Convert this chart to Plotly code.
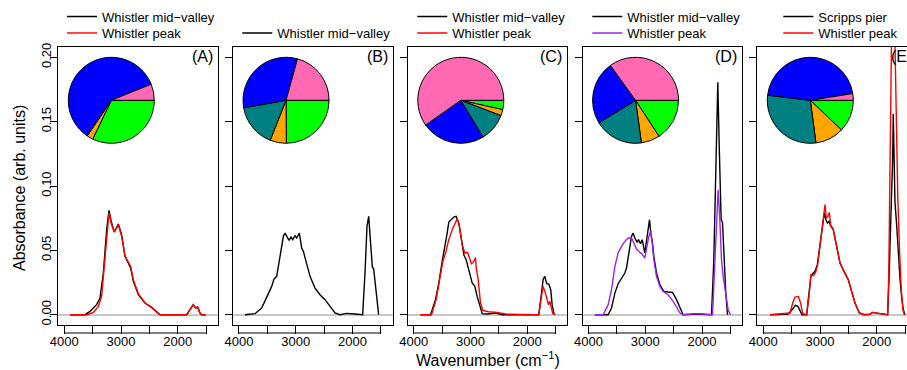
import plotly.graph_objects as go

# ---------------- data ----------------
pie_labels = ["Hydroxyl", "Alkane", "Carbonyl", "Amine", "Carboxylic acid"]
pie_colors = ["#FF69B4", "#0000FF", "#008080", "#FFA500", "#00FF00"]
pie_A = [6.1, 59.4, 0.0, 2.4, 32.1]
pie_B = [20.7, 32.1, 16.2, 6.1, 24.9]
pie_C = [59.8, 23.9, 10.6, 2.3, 3.5]
pie_D = [34.9, 23.8, 18.4, 7.0, 15.8]
pie_E = [2.5, 45.6, 29.0, 10.8, 12.1]

A_mid_wn = [3898, 3634, 3546, 3429, 3370, 3311, 3253, 3212, 3165, 3118, 3047, 2989, 2930, 2871, 2830, 2783, 2695, 2578, 2461, 2314, 1845, 1786, 1727, 1686, 1651, 1610, 1581, 1510]
A_mid = [0, 0, 0.0026, 0.0078, 0.013, 0.0324, 0.066, 0.081, 0.0712, 0.0643, 0.0705, 0.0622, 0.0453, 0.0402, 0.0363, 0.0259, 0.0155, 0.0091, 0.0057, 0, 0, 0.0039, 0.0078, 0.0052, 0.006, 0.0013, 0, 0]
A_peak_wn = [3898, 3605, 3487, 3399, 3341, 3300, 3253, 3212, 3165, 3118, 3047, 2989, 2930, 2871, 2830, 2783, 2695, 2578, 2461, 2314, 1845, 1786, 1727, 1686, 1651, 1610, 1581, 1510]
A_peak = [0, 0, 0.0018, 0.0065, 0.0142, 0.035, 0.0634, 0.079, 0.0699, 0.0643, 0.0699, 0.0609, 0.0458, 0.0414, 0.0375, 0.0272, 0.0163, 0.0091, 0.0057, 0, 0, 0.0039, 0.0078, 0.0052, 0.006, 0.0013, 0, 0]

B_mid_wn = [3893, 3717, 3600, 3512, 3424, 3383, 3336, 3277, 3218, 3189, 3148, 3119, 3083, 3054, 3013, 2984, 2937, 2896, 2866, 2808, 2749, 2661, 2573, 2485, 2397, 2309, 2221, 2104, 1957, 1822, 1781, 1746, 1716, 1681, 1652, 1628, 1576, 1541]
B_mid = [0, 0.0008, 0.0052, 0.013, 0.022, 0.0277, 0.0298, 0.0453, 0.0609, 0.0634, 0.0596, 0.0577, 0.0603, 0.0583, 0.0614, 0.0596, 0.0634, 0.0518, 0.0492, 0.0389, 0.0298, 0.0207, 0.0155, 0.0117, 0.0065, 0.0013, 0, 0.001, 0.0005, 0, 0.0324, 0.0686, 0.0764, 0.0531, 0.0371, 0.0355, 0.0117, 0]

C_mid_wn = [3880, 3704, 3616, 3558, 3499, 3452, 3411, 3382, 3335, 3294, 3253, 3206, 3159, 3118, 3077, 3042, 3000, 2971, 2924, 2883, 2842, 2795, 2707, 2560, 2443, 1798, 1757, 1722, 1692, 1657, 1622, 1587, 1563, 1528]
C_mid = [0, 0, 0.0117, 0.0246, 0.0414, 0.0518, 0.0634, 0.072, 0.0738, 0.0759, 0.0764, 0.0712, 0.0583, 0.0466, 0.0427, 0.0375, 0.0298, 0.0246, 0.022, 0.0142, 0.0078, 0.0008, 0.0005, 0.0013, 0, 0, 0.0142, 0.0272, 0.0298, 0.0241, 0.0238, 0.0194, 0.0078, 0]
C_peak_wn = [3880, 3687, 3605, 3528, 3487, 3440, 3382, 3323, 3276, 3235, 3194, 3147, 3100, 3053, 3018, 2983, 2942, 2912, 2901, 2865, 2824, 2783, 2678, 2531, 2384, 1798, 1751, 1722, 1681, 1651, 1628, 1604, 1581, 1552, 1504]
C_peak = [0, 0, 0.0117, 0.0311, 0.0414, 0.0479, 0.0583, 0.066, 0.0712, 0.0746, 0.0686, 0.0544, 0.0479, 0.0484, 0.044, 0.0396, 0.0414, 0.0445, 0.037, 0.0272, 0.0091, 0.0034, 0.0023, 0.0018, 0.0005, 0, 0.0142, 0.022, 0.0168, 0.0117, 0.0078, 0.0104, 0.0065, 0.0008, 0]

D_mid_wn = [3887, 3653, 3594, 3535, 3477, 3418, 3359, 3330, 3283, 3242, 3213, 3184, 3142, 3119, 3084, 3054, 3008, 2966, 2925, 2902, 2872, 2849, 2802, 2743, 2673, 2597, 2520, 2450, 2391, 2333, 2098, 1834, 1793, 1758, 1723, 1699, 1664, 1640, 1611, 1582, 1552]
D_mid = [0, 0, 0.0052, 0.0168, 0.0241, 0.0285, 0.0324, 0.0363, 0.0505, 0.0609, 0.0634, 0.0596, 0.0562, 0.0583, 0.0552, 0.0583, 0.048, 0.0634, 0.0738, 0.0634, 0.0557, 0.0453, 0.0324, 0.0233, 0.0181, 0.0176, 0.0173, 0.0117, 0.0052, 0, 0.0005, 0, 0.0427, 0.1204, 0.1805, 0.133, 0.0738, 0.0717, 0.0427, 0.0168, 0]
D_peak_wn = [3887, 3741, 3653, 3594, 3535, 3477, 3418, 3359, 3301, 3242, 3201, 3154, 3095, 3054, 3008, 2978, 2937, 2908, 2878, 2849, 2802, 2743, 2685, 2597, 2509, 2438, 2391, 2333, 2098, 1816, 1781, 1746, 1717, 1687, 1658, 1629, 1588, 1541, 1500]
D_peak = [0, 0, 0.0078, 0.0194, 0.0376, 0.0479, 0.0531, 0.057, 0.0596, 0.0596, 0.0557, 0.051, 0.0484, 0.0471, 0.044, 0.0518, 0.0609, 0.0648, 0.0557, 0.0427, 0.0298, 0.022, 0.0181, 0.0155, 0.0104, 0.0052, 0.0013, 0, 0.0008, 0, 0.0376, 0.0764, 0.0971, 0.0738, 0.0427, 0.0298, 0.0168, 0.0039, 0]

E_pier_wn = [3880, 3558, 3481, 3435, 3388, 3352, 3317, 3235, 3194, 3165, 3130, 3088, 3047, 3000, 2959, 2924, 2895, 2871, 2842, 2813, 2766, 2707, 2648, 2578, 2502, 2443, 2384, 2308, 2226, 2120, 2079, 1944, 1809, 1780, 1757, 1739, 1722, 1710, 1698, 1680, 1651, 1620, 1592, 1560, 1534, 1505]
E_pier = [0, 0.0005, 0.0044, 0.0073, 0.0065, 0.0026, 0, 0, 0.0142, 0.0285, 0.0319, 0.0337, 0.0389, 0.0531, 0.0661, 0.079, 0.0738, 0.0712, 0.0725, 0.0692, 0.0661, 0.0518, 0.0402, 0.0337, 0.0272, 0.0181, 0.0091, 0.0013, 0, 0.0003, 0.0018, 0.0008, 0, 0.035, 0.07, 0.0868, 0.12, 0.156, 0.12, 0.087, 0.07, 0.045, 0.028, 0.012, 0.004, 0]
E_peak_wn = [3880, 3528, 3481, 3440, 3382, 3341, 3306, 3235, 3194, 3159, 3118, 3077, 3041, 3000, 2959, 2930, 2912, 2889, 2860, 2836, 2813, 2766, 2707, 2648, 2578, 2502, 2443, 2384, 2308, 2226, 2120, 2079, 1944, 1809, 1790, 1760, 1745, 1725, 1712, 1700, 1680, 1660, 1630, 1600, 1570, 1540, 1515]
E_peak = [0, 0.0013, 0.0091, 0.0137, 0.0142, 0.0091, 0.0008, 0, 0.0142, 0.0311, 0.0303, 0.0329, 0.0389, 0.0544, 0.0686, 0.0816, 0.0855, 0.0751, 0.0764, 0.0795, 0.0699, 0.0661, 0.0518, 0.0402, 0.0337, 0.0272, 0.0181, 0.0091, 0.0013, 0, 0.0003, 0.0018, 0.0008, 0, 0.03, 0.12, 0.2, 0.28, 0.3, 0.28, 0.21, 0.15, 0.09, 0.05, 0.02, 0.004, 0]

x_major_ticks = [4000, 3000, 2000]
x_major_text = ["4000", "3000", "2000"]
x_minor_ticks = [3500, 2500, 1500]
y_tickvals = [0, 0.05, 0.10, 0.15, 0.20]
y_ticktext = ["0.00", "0.05", "0.10", "0.15", "0.20"]
panel_tags = ["(A)", "(B)", "(C)", "(D)", "(E)"]

# ---------------- layout geometry (pixels) ----------------
W, H = 907, 370
FONT = "Liberation Sans, Arial, Helvetica, sans-serif"
L0, PITCH, PW = 58.3, 174.75, 159.5
TOP, BOT = 47.0, 325.0
XR = [4104.0, 1296.0]
YR = [-0.008, 0.208]
UPP = (XR[0] - XR[1]) / PW  # wavenumber units per pixel


def fx(p):
    return p / W


def fy(p):
    return 1 - p / H


BLACK, RED, PURPLE = "#000000", "#FF0000", "#A020F0"

panels = [
    dict(series=[(A_mid_wn, A_mid, "Whistler mid\u2212valley", BLACK, 1),
                 (A_peak_wn, A_peak, "Whistler peak", RED, 2)], pie=pie_A),
    dict(series=[(B_mid_wn, B_mid, "Whistler mid\u2212valley", BLACK, 2)], pie=pie_B),
    dict(series=[(C_mid_wn, C_mid, "Whistler mid\u2212valley", BLACK, 1),
                 (C_peak_wn, C_peak, "Whistler peak", RED, 2)], pie=pie_C),
    dict(series=[(D_mid_wn, D_mid, "Whistler mid\u2212valley", BLACK, 1),
                 (D_peak_wn, D_peak, "Whistler peak", PURPLE, 2)], pie=pie_D),
    dict(series=[(E_pier_wn, E_pier, "Scripps pier", BLACK, 1),
                 (E_peak_wn, E_peak, "Whistler peak", RED, 2)], pie=pie_E),
]
legend_text_x = [102, 277.3, 452.3, 627.3, 818.3]
legend_row_y = {1: 16.5, 2: 33.0}

fig = go.Figure()
layout = dict(
    width=W, height=H, margin=dict(l=0, r=0, t=0, b=0, autoexpand=False),
    paper_bgcolor="white", plot_bgcolor="white",
    font=dict(family=FONT, size=13, color="black"),
    shapes=[], annotations=[],
)

leg_n = 0
for i, p in enumerate(panels):
    left = L0 + PITCH * i
    right = left + PW
    xr = list(XR)
    mirror_y = True
    if right > W:
        xr[1] = XR[0] - (W - left) * UPP
        right = W
        mirror_y = False
    sfx = "" if i == 0 else str(i + 1)
    xref, yref = "x" + sfx, "y" + sfx

    for wn, vals, name, col, row in p["series"]:
        leg_n += 1
        lname = "legend" if leg_n == 1 else "legend%d" % leg_n
        fig.add_trace(go.Scatter(
            x=wn, y=vals, mode="lines", name=name,
            line=dict(color=col, width=1.4),
            xaxis=xref, yaxis=yref, legend=lname, hoverinfo="skip"))
        layout[lname] = dict(
            x=fx(legend_text_x[i] - 40), y=fy(legend_row_y[row]),
            xanchor="left", yanchor="middle",
            bgcolor="rgba(0,0,0,0)", borderwidth=0, itemwidth=30,
            font=dict(family=FONT, size=13, color="black"),
            itemclick=False, itemdoubleclick=False)

    layout["xaxis" + sfx] = dict(
        domain=[fx(left), fx(right)], range=xr, anchor=yref,
        showline=True, mirror=True, linecolor="black", linewidth=1,
        showgrid=False, zeroline=False,
        tickmode="array", tickvals=x_major_ticks, ticktext=x_major_text,
        ticks="outside", ticklen=8, tickcolor="black", tickwidth=1,
        ticklabelstandoff=-4,
        minor=dict(tickmode="array", tickvals=x_minor_ticks, ticks="outside",
                   ticklen=8, tickcolor="black", tickwidth=1, showgrid=False),
        tickfont=dict(family=FONT, size=13, color="black"))
    layout["yaxis" + sfx] = dict(
        domain=[fy(BOT), fy(TOP)], range=YR, anchor=xref,
        showline=True, mirror=mirror_y, linecolor="black", linewidth=1,
        showgrid=False, zeroline=True, zerolinecolor="#C8C8C8", zerolinewidth=1.5,
        tickmode="array", tickvals=y_tickvals, ticktext=y_ticktext,
        ticks="outside", ticklen=7, tickcolor="black", tickwidth=1,
        showticklabels=(i == 0), tickangle=-90, ticklabelstandoff=-6,
        tickfont=dict(family=FONT, size=13, color="black"))

    # axis baseline below the box (from 4000 to 1500)
    layout["shapes"].append(dict(
        type="line", xref=xref, yref="paper", x0=x_major_ticks[0], x1=x_minor_ticks[-1],
        y0=fy(333), y1=fy(333), line=dict(color="black", width=1)))

    # panel tag
    layout["annotations"].append(dict(
        text=panel_tags[i], xref="paper", yref="paper", x=fx(left + PW - 3),
        y=fy(56), xanchor="right", yanchor="middle", showarrow=False,
        font=dict(family=FONT, size=16, color="black")))

    # pie (R style: first slice starts at 3 o'clock and runs counter-clockwise)
    cx, cy, r = left + 53, 100.3, 43
    fig.add_trace(go.Pie(
        labels=pie_labels[::-1], values=p["pie"][::-1], sort=False,
        direction="clockwise", rotation=90,
        marker=dict(colors=pie_colors[::-1], line=dict(color="black", width=1)),
        textinfo="none", hoverinfo="skip", showlegend=False,
        domain=dict(x=[fx(cx - r), fx(cx + r)], y=[fy(cy + r), fy(cy - r)])))

layout["annotations"].append(dict(
    text="Wavenumber (cm<sup>\u22121</sup>)", xref="paper", yref="paper",
    x=fx(487.5), y=fy(359), xanchor="center", yanchor="middle", showarrow=False,
    font=dict(family=FONT, size=16, color="black")))
layout["annotations"].append(dict(
    text="Absorbance (arb. units)", xref="paper", yref="paper",
    x=fx(19), y=fy(188), xanchor="center", yanchor="middle", showarrow=False,
    textangle=-90, font=dict(family=FONT, size=16, color="black")))

fig.update_layout(**layout)
fig.write_html("out.html", config={"displayModeBar": False},
               post_script="document.body.style.margin='0px';")
